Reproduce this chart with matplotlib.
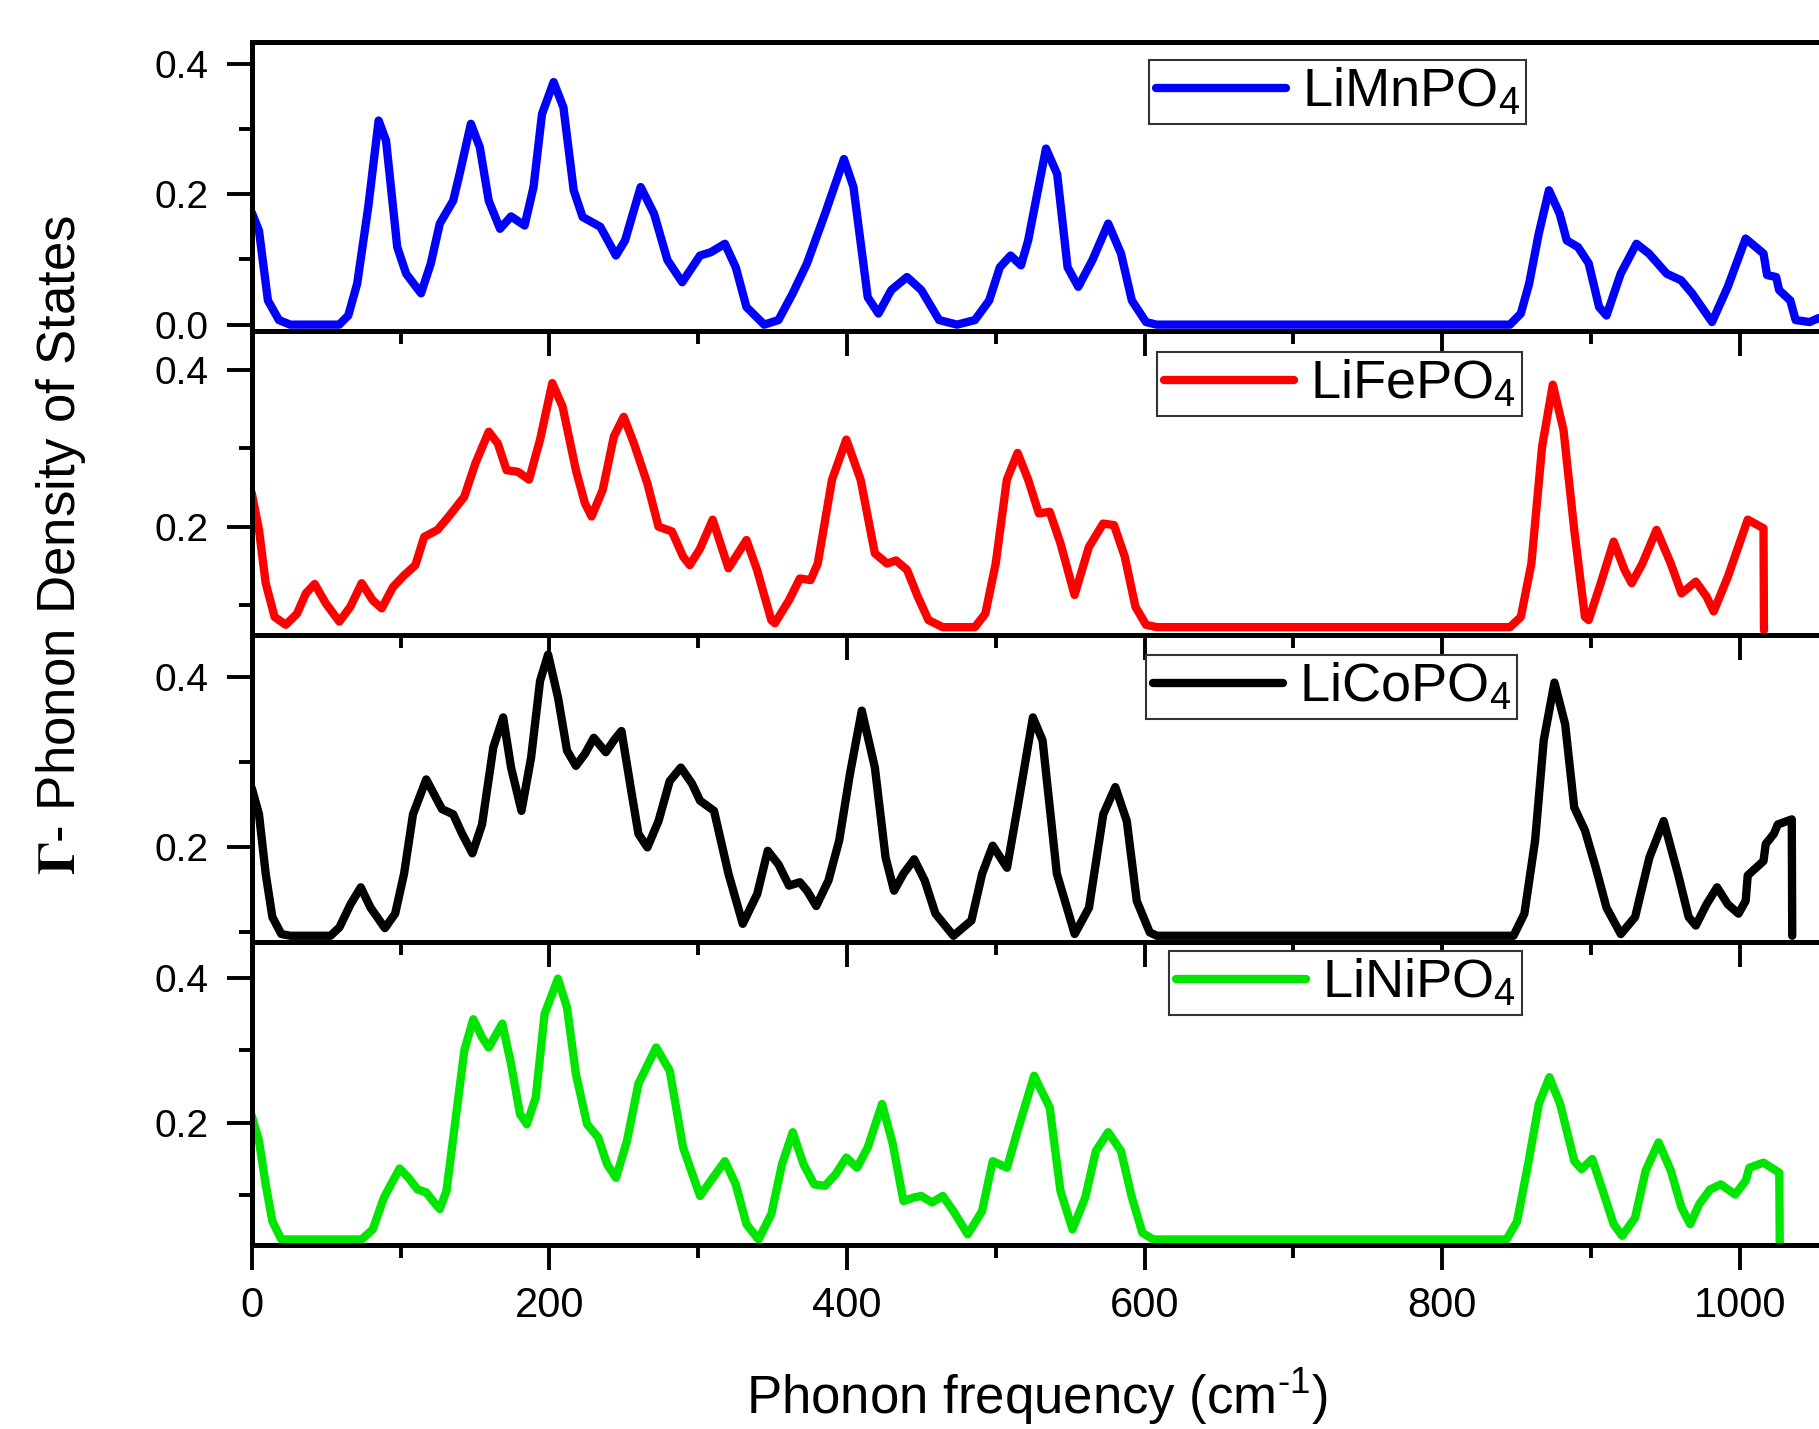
import matplotlib
matplotlib.use("Agg")
import matplotlib.pyplot as plt
from matplotlib.ticker import MultipleLocator, FormatStrFormatter

plt.rcParams['font.family'] = ['Liberation Sans', 'DejaVu Sans']
plt.rcParams['mathtext.fontset'] = 'custom'
plt.rcParams['mathtext.rm'] = 'Liberation Sans'
plt.rcParams['mathtext.it'] = 'Liberation Sans'
plt.rcParams['mathtext.bf'] = 'Liberation Sans:bold'
plt.rcParams['mathtext.default'] = 'regular'

# ---------------- data ----------------
labels = ['LiMnPO$_4$', 'LiFePO$_4$', 'LiCoPO$_4$', 'LiNiPO$_4$']
colors = ['#0000ff', '#ff0000', '#000000', '#00e600']

mn_x = [0, 4.9, 10.9, 18.3, 25.8, 58.8, 64.9, 70.9, 78.3, 85.3, 90.3, 97.8, 103.8, 113.8, 120.4, 126.4,
        135.4, 139.8, 147.3, 153.3, 159.3, 166.9, 174.3, 183.4, 189.4, 195.1, 202.9, 209.5, 216.4, 222.4,
        234.3, 244.8, 250.9, 261.4, 270.4, 279.4, 289.3, 301.3, 308.5, 318, 325.3, 332.5, 344.4, 354,
        363.6, 373.2, 385.3, 398, 404.4, 414, 421.2, 429.8, 440.4, 450, 462, 474, 486, 495.6, 502.8, 510,
        517, 521.8, 533.8, 541.3, 548.3, 555.5, 565, 575.6, 584.2, 591.5, 601, 608, 845.6, 852.9, 858.5,
        864.9, 871.8, 879, 883.8, 891.3, 898.5, 905.5, 910.5, 920, 930.6, 939, 951, 960.6, 968, 981.4,
        992, 1004, 1016, 1018.4, 1024.5, 1026.5, 1034, 1037.6, 1047, 1053, 1070]
mn_y = [0.172, 0.144, 0.037, 0.007, 0.0, 0.0, 0.014, 0.063, 0.18, 0.313, 0.282, 0.119, 0.078, 0.048, 0.094,
        0.155, 0.19, 0.232, 0.308, 0.272, 0.19, 0.147, 0.166, 0.152, 0.211, 0.323, 0.372, 0.333, 0.206,
        0.165, 0.15, 0.106, 0.129, 0.211, 0.17, 0.099, 0.065, 0.106, 0.111, 0.124, 0.088, 0.027, 0.0,
        0.007, 0.048, 0.094, 0.17, 0.254, 0.211, 0.042, 0.017, 0.053, 0.073, 0.053, 0.007, 0.0, 0.007,
        0.037, 0.088, 0.106, 0.091, 0.129, 0.27, 0.231, 0.088, 0.058, 0.099, 0.155, 0.109, 0.037, 0.004,
        0.0, 0.0, 0.017, 0.063, 0.139, 0.206, 0.17, 0.129, 0.119, 0.094, 0.027, 0.014, 0.078, 0.124,
        0.109, 0.078, 0.068, 0.048, 0.004, 0.058, 0.132, 0.109, 0.076, 0.073, 0.053, 0.037, 0.007, 0.004,
        0.01, 0.005]

fe_x = [0, 4.9, 9.4, 15.4, 22.9, 30.4, 36.4, 42.3, 49.9, 58.9, 66.3, 73.9, 81.4, 87.4, 94.9, 102.4, 110,
        115.9, 124.9, 132.4, 142.8, 150.4, 159.3, 165.4, 171.3, 178.9, 186.4, 193.8, 202, 208.9, 217.9,
        223.9, 228.4, 235.9, 243.4, 250, 256.9, 265.9, 273.4, 282.4, 289.9, 294.4, 301.3, 309.8, 320.4,
        332.5, 339.6, 349.2, 351.6, 361, 368.4, 375.6, 380.4, 390, 399.6, 409.2, 418.8, 427, 433, 440.4,
        447.6, 454.8, 464.4, 486, 493, 500, 507.5, 514.7, 521.8, 529, 536.3, 543.5, 553, 562.6, 572.2,
        579.5, 586.7, 593.9, 601, 608.3, 845.6, 852.9, 860, 867.2, 874.4, 881.6, 888.8, 896, 898.5,
        906.6, 915.3, 922.6, 927.4, 934.6, 944.1, 953.7, 960.9, 970.5, 977.7, 982.5, 992, 1005.4, 1016,
        1016.3]
fe_y = [0.243, 0.196, 0.128, 0.085, 0.075, 0.089, 0.115, 0.127, 0.102, 0.079, 0.098, 0.128, 0.106, 0.096,
        0.123, 0.138, 0.151, 0.187, 0.196, 0.213, 0.238, 0.281, 0.321, 0.306, 0.272, 0.27, 0.26, 0.311,
        0.383, 0.353, 0.272, 0.23, 0.213, 0.247, 0.315, 0.34, 0.306, 0.255, 0.2, 0.194, 0.162, 0.151,
        0.172, 0.209, 0.147, 0.183, 0.145, 0.081, 0.077, 0.106, 0.134, 0.132, 0.153, 0.26, 0.311, 0.26,
        0.166, 0.153, 0.157, 0.145, 0.111, 0.081, 0.072, 0.072, 0.089, 0.153, 0.26, 0.294, 0.26, 0.217,
        0.219, 0.179, 0.113, 0.174, 0.204, 0.202, 0.162, 0.098, 0.075, 0.072, 0.072, 0.085, 0.153, 0.302,
        0.381, 0.323, 0.196, 0.085, 0.081, 0.128, 0.181, 0.145, 0.128, 0.153, 0.196, 0.153, 0.115, 0.13,
        0.111, 0.092, 0.136, 0.209, 0.198, 0.068]

co_x = [0, 4.9, 9.4, 13.9, 19.9, 26, 53, 59, 66.4, 73.3, 79.9, 89.5, 96.4, 102.4, 108.4, 117.3, 127.9,
        135.4, 141.4, 148.3, 154.8, 162.4, 169, 174.3, 181.3, 187.8, 193.8, 199.2, 205.9, 211.9, 217.9,
        223.9, 229.9, 238, 243.4, 248.5, 255.4, 259.9, 265.9, 273.4, 280.9, 288.4, 295.9, 301.3, 310.7,
        320.4, 330, 339.7, 346.8, 354, 361.1, 368.4, 373.2, 379.4, 387.6, 394.8, 402, 410, 418.8, 426,
        431.7, 438, 445.2, 452.3, 459.5, 471.6, 483.7, 490.9, 498, 507.6, 514.7, 525, 531.5, 541.1, 553.1,
        562.7, 572.3, 580.4, 588.1, 594.8, 603.5, 608.3, 848, 855.3, 862.5, 868.3, 875.5, 882.7, 888.8,
        896, 903.3, 910.5, 920.1, 929.7, 939.3, 948.9, 958.5, 965.7, 970.5, 977.7, 984.8, 992, 999.2,
        1004, 1005.4, 1016, 1017.5, 1023, 1025.6, 1035, 1035.3]
co_y = [0.27, 0.239, 0.169, 0.118, 0.098, 0.096, 0.096, 0.106, 0.133, 0.153, 0.129, 0.105, 0.122, 0.169,
        0.239, 0.28, 0.245, 0.239, 0.216, 0.193, 0.227, 0.318, 0.353, 0.294, 0.243, 0.306, 0.396, 0.427,
        0.376, 0.314, 0.296, 0.31, 0.329, 0.312, 0.326, 0.337, 0.263, 0.216, 0.2, 0.231, 0.278, 0.294,
        0.275, 0.255, 0.243, 0.169, 0.11, 0.145, 0.196, 0.18, 0.155, 0.159, 0.149, 0.131, 0.161, 0.208,
        0.286, 0.361, 0.294, 0.188, 0.149, 0.169, 0.186, 0.161, 0.122, 0.096, 0.114, 0.169, 0.202, 0.176,
        0.247, 0.353, 0.326, 0.169, 0.098, 0.129, 0.239, 0.271, 0.231, 0.137, 0.1, 0.096, 0.096, 0.122,
        0.208, 0.326, 0.394, 0.345, 0.247, 0.22, 0.176, 0.129, 0.098, 0.118, 0.188, 0.231, 0.169, 0.118,
        0.108, 0.133, 0.153, 0.133, 0.122, 0.137, 0.167, 0.184, 0.204, 0.216, 0.227, 0.233, 0.096]

ni_x = [0, 4.9, 9.4, 13.9, 19.9, 73.9, 81.4, 88.9, 99.4, 105.4, 111.4, 117.3, 121.8, 126.4, 130.9, 136.9,
        142.9, 148.9, 154.8, 159.3, 168.4, 174.3, 180.3, 184.9, 190.9, 196.8, 205.8, 211.9, 217.9, 225.4,
        232.8, 238.8, 244.8, 252.2, 259.9, 271.8, 280.9, 289.9, 301.3, 308.5, 318, 325.3, 332.5, 340.6,
        349.2, 356.4, 363.6, 370.8, 378, 385.3, 392.4, 399.6, 406.8, 414, 423.6, 430.8, 438, 445.2, 450,
        457.2, 464.4, 471.6, 481.2, 490.8, 498, 507.6, 514.7, 525.8, 536.3, 543.5, 551.6, 560.2, 567.3,
        575.6, 584.2, 591.5, 598.6, 605.9, 843.3, 850.4, 857.8, 865, 872.1, 879.3, 888.9, 893.7, 900.9,
        908, 915.3, 921, 929.7, 936.8, 945.5, 953.7, 960.9, 966.7, 972.9, 980.1, 987.3, 996.9, 1004,
        1006.5, 1016, 1026.6, 1026.9]
ni_y = [0.21, 0.175, 0.115, 0.064, 0.039, 0.039, 0.053, 0.097, 0.137, 0.124, 0.108, 0.104, 0.092, 0.081,
        0.106, 0.203, 0.3, 0.343, 0.318, 0.304, 0.337, 0.281, 0.212, 0.198, 0.235, 0.35, 0.399, 0.359,
        0.267, 0.198, 0.18, 0.143, 0.124, 0.175, 0.254, 0.304, 0.272, 0.166, 0.099, 0.12, 0.147, 0.115,
        0.06, 0.039, 0.074, 0.143, 0.187, 0.143, 0.115, 0.113, 0.129, 0.152, 0.138, 0.166, 0.226, 0.171,
        0.092, 0.097, 0.099, 0.09, 0.099, 0.078, 0.046, 0.078, 0.147, 0.138, 0.189, 0.265, 0.221, 0.106,
        0.053, 0.097, 0.161, 0.187, 0.161, 0.097, 0.048, 0.039, 0.039, 0.064, 0.143, 0.226, 0.263, 0.226,
        0.147, 0.136, 0.15, 0.106, 0.06, 0.044, 0.069, 0.134, 0.173, 0.134, 0.083, 0.06, 0.088, 0.108,
        0.115, 0.101, 0.12, 0.138, 0.145, 0.131, 0.034]

xs = [mn_x, fe_x, co_x, ni_x]
ys = [mn_y, fe_y, co_y, ni_y]
ylims = [(-0.009, 0.433), (0.062, 0.45), (0.089, 0.45), (0.032, 0.45)]

# ---------------- layout ----------------
W, H = 1819, 1429
fig = plt.figure(figsize=(W / 100, H / 100), dpi=100)
fig.patch.set_facecolor('white')

left = 251.7 / W
xmax = 1100
width = xmax * 1.488 / W
edges_px = [42.3, 330.5, 635, 941.7, 1244.5]
legend_pos = [(1149, 60), (1157, 352), (1146, 655), (1169, 951)]

for i in range(4):
    top = 1 - edges_px[i] / H
    bot = 1 - edges_px[i + 1] / H
    ax = fig.add_axes([left, bot, width, top - bot])
    ax.set_facecolor('none')
    ax.plot(xs[i], ys[i], color=colors[i], lw=6, solid_capstyle='round',
            solid_joinstyle='round', label=labels[i])
    ax.set_xlim(0, xmax)
    ax.set_ylim(*ylims[i])
    for s in ax.spines.values():
        s.set_linewidth(3.6)
    ax.spines['right'].set_visible(False)
    if i > 0:
        ax.spines['top'].set_visible(False)
    ax.xaxis.set_major_locator(MultipleLocator(200))
    ax.xaxis.set_minor_locator(MultipleLocator(100))
    ax.yaxis.set_major_locator(MultipleLocator(0.2))
    ax.yaxis.set_minor_locator(MultipleLocator(0.1))
    ax.yaxis.set_major_formatter(FormatStrFormatter('%.1f'))
    ax.tick_params(axis='both', which='major', direction='out', length=18, width=2.8)
    ax.tick_params(axis='both', which='minor', direction='out', length=9.5, width=2.8)
    ax.tick_params(axis='x', top=False, bottom=True, which='both', labelsize=30, pad=12,
                   labelbottom=(i == 3))
    ax.tick_params(axis='y', right=False, left=True, which='both', labelsize=28, pad=13)
    lx, ly = legend_pos[i]
    leg = ax.legend(loc='upper left', bbox_to_anchor=(lx / W, 1 - ly / H),
                    bbox_transform=fig.transFigure, frameon=True, fancybox=False,
                    edgecolor='#333333', framealpha=1, fontsize=39, handlelength=2.4,
                    handletextpad=0.3, borderpad=0.12, borderaxespad=0)
    leg.get_frame().set_linewidth(1.5)

fig.text(61 / W, 1 - 545 / H, r'$\mathbf{\Gamma}$- Phonon Density of States', rotation=90,
         ha='center', va='center', fontsize=38, math_fontfamily='stix')
fig.text(1037 / W, 15 / H, r'Phonon frequency (cm$^{\text{-1}}$)', ha='center',
         va='baseline', fontsize=38)

fig.savefig('out.png', dpi=100, facecolor='white')
